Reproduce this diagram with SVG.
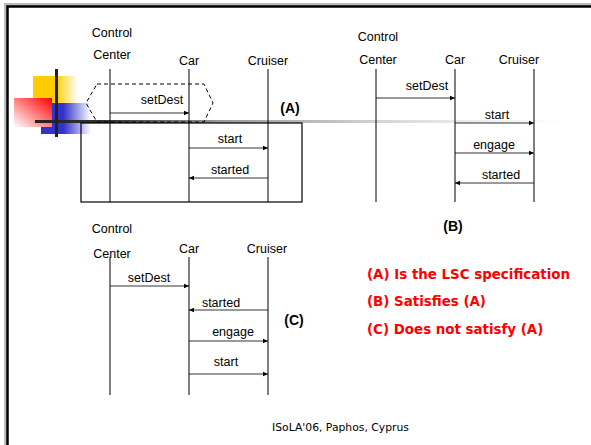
<svg xmlns="http://www.w3.org/2000/svg" width="591" height="445" viewBox="0 0 591 445">
<defs>
<style>
.lbl{font-family:"Liberation Sans",Arial,sans-serif;font-size:12.5px;fill:#000;text-anchor:middle}
.tag{font-family:"Liberation Sans",Arial,sans-serif;font-size:14px;font-weight:bold;fill:#000;text-anchor:middle}
.red{font-family:"DejaVu Sans",Verdana,sans-serif;font-size:13.4px;font-weight:bold;fill:#ff0000}
.foot{font-family:"DejaVu Sans",Tahoma,sans-serif;font-size:10.8px;fill:#000}
.life{stroke:#000;stroke-width:1;fill:none}
.msg{stroke:#000;stroke-width:0.8;fill:none;marker-end:url(#ah)}
</style>
<marker id="ah" markerWidth="6" markerHeight="6" refX="5" refY="3" orient="auto" markerUnits="userSpaceOnUse">
<path d="M0,0.8 L5,3 L0,5.2 Z" fill="#000"/>
</marker>
<linearGradient id="gy" x1="0" y1="0" x2="1" y2="0">
<stop offset="0" stop-color="#ffcc00"/><stop offset="0.5" stop-color="#ffcc00"/><stop offset="1" stop-color="#ffffff"/>
</linearGradient>
<linearGradient id="gr" x1="1" y1="0" x2="0" y2="1">
<stop offset="0" stop-color="#ff0000"/><stop offset="1" stop-color="#ffffff"/>
</linearGradient>
<linearGradient id="gb" x1="0" y1="0" x2="1" y2="0">
<stop offset="0" stop-color="#3333cc"/><stop offset="0.45" stop-color="#3333cc"/><stop offset="1" stop-color="#ffffff"/>
</linearGradient>
<linearGradient id="gl" gradientUnits="userSpaceOnUse" x1="35" y1="0" x2="565" y2="0">
<stop offset="0" stop-color="#222"/><stop offset="0.13" stop-color="#333"/><stop offset="0.35" stop-color="#999"/><stop offset="0.7" stop-color="#ddd"/><stop offset="1" stop-color="#fff"/>
</linearGradient>
</defs>
<rect width="591" height="445" fill="#fff"/>
<g id="frame">
<path d="M6,445 V5 H591" fill="none" stroke="#bbb" stroke-width="4"/>
<path d="M7.5,445 V6.5 H591" fill="none" stroke="#000" stroke-width="2.5"/>
</g>
<g id="decoration">
<rect x="33" y="76" width="45" height="27" fill="url(#gy)"/>
<rect x="41" y="103" width="50" height="31" fill="url(#gb)"/>
<rect x="14" y="98" width="38" height="29" fill="url(#gr)"/>
<rect x="35" y="120" width="530" height="3" fill="url(#gl)"/>
<rect x="55" y="69" width="3" height="68" fill="#222"/>
</g>
<g id="diagramA">
<g id="A-cc"><text class="lbl" x="112" y="37">Control</text><text class="lbl" x="112" y="59">Center</text><line class="life" x1="110" y1="69" x2="110" y2="202"/></g>
<g id="A-car"><text class="lbl" x="189" y="65">Car</text><line class="life" x1="189" y1="69" x2="189" y2="202"/></g>
<g id="A-cruiser"><text class="lbl" x="268" y="65">Cruiser</text><line class="life" x1="268" y1="69" x2="268" y2="202"/></g>
<g id="A-prechart"><path d="M97,84 H204 L213,103 L204,122 H97 L86,103 Z" fill="none" stroke="#000" stroke-width="1" stroke-dasharray="4,3"/></g>
<g id="A-mainchart"><rect x="81" y="123" width="221" height="79" fill="none" stroke="#000" stroke-width="1.2"/></g>
<text class="tag" x="290" y="113">(A)</text>
</g>
<g id="diagramB">
<g id="B-cc"><text class="lbl" x="378" y="41">Control</text><text class="lbl" x="378" y="64">Center</text><line class="life" x1="376" y1="69" x2="376" y2="202"/></g>
<g id="B-car"><text class="lbl" x="455" y="64">Car</text><line class="life" x1="455" y1="69" x2="455" y2="202"/></g>
<g id="B-cruiser"><text class="lbl" x="519" y="64">Cruiser</text><line class="life" x1="534" y1="69" x2="534" y2="202"/></g>
<text class="tag" x="453" y="231">(B)</text>
</g>
<g id="diagramC">
<g id="C-cc"><text class="lbl" x="112" y="233">Control</text><text class="lbl" x="112" y="258">Center</text><line class="life" x1="110" y1="257" x2="110" y2="395"/></g>
<g id="C-car"><text class="lbl" x="189" y="253">Car</text><line class="life" x1="189" y1="257" x2="189" y2="395"/></g>
<g id="C-cruiser"><text class="lbl" x="267" y="253">Cruiser</text><line class="life" x1="268" y1="257" x2="268" y2="395"/></g>
<text class="tag" x="294" y="325">(C)</text>
</g>
<g id="connectors">
<line class="msg" x1="110" y1="113" x2="189" y2="113"/><text class="lbl" x="162" y="104">setDest</text>
<line class="msg" x1="189" y1="148" x2="268" y2="148"/><text class="lbl" x="230" y="143">start</text>
<line class="msg" x1="268" y1="178" x2="189" y2="178"/><text class="lbl" x="230" y="174">started</text>
<line class="msg" x1="376" y1="98" x2="455" y2="98"/><text class="lbl" x="427" y="90">setDest</text>
<line class="msg" x1="455" y1="123" x2="534" y2="123"/><text class="lbl" x="497" y="119">start</text>
<line class="msg" x1="455" y1="153" x2="534" y2="153"/><text class="lbl" x="494" y="149">engage</text>
<line class="msg" x1="534" y1="183" x2="455" y2="183"/><text class="lbl" x="501" y="179">started</text>
<line class="msg" x1="110" y1="286" x2="189" y2="286"/><text class="lbl" x="149" y="282">setDest</text>
<line class="msg" x1="268" y1="310" x2="189" y2="310"/><text class="lbl" x="221" y="307">started</text>
<line class="msg" x1="189" y1="341" x2="268" y2="341"/><text class="lbl" x="233" y="336">engage</text>
<line class="msg" x1="189" y1="374" x2="268" y2="374"/><text class="lbl" x="226" y="366">start</text>
</g>
<g id="notes">
<text class="red" x="367" y="279">(A) Is the LSC specification</text>
<text class="red" x="367" y="306">(B) Satisfies (A)</text>
<text class="red" x="367" y="334">(C) Does not satisfy (A)</text>
<text class="foot" x="272" y="431">ISoLA'06, Paphos, Cyprus</text>
</g>
</svg>
